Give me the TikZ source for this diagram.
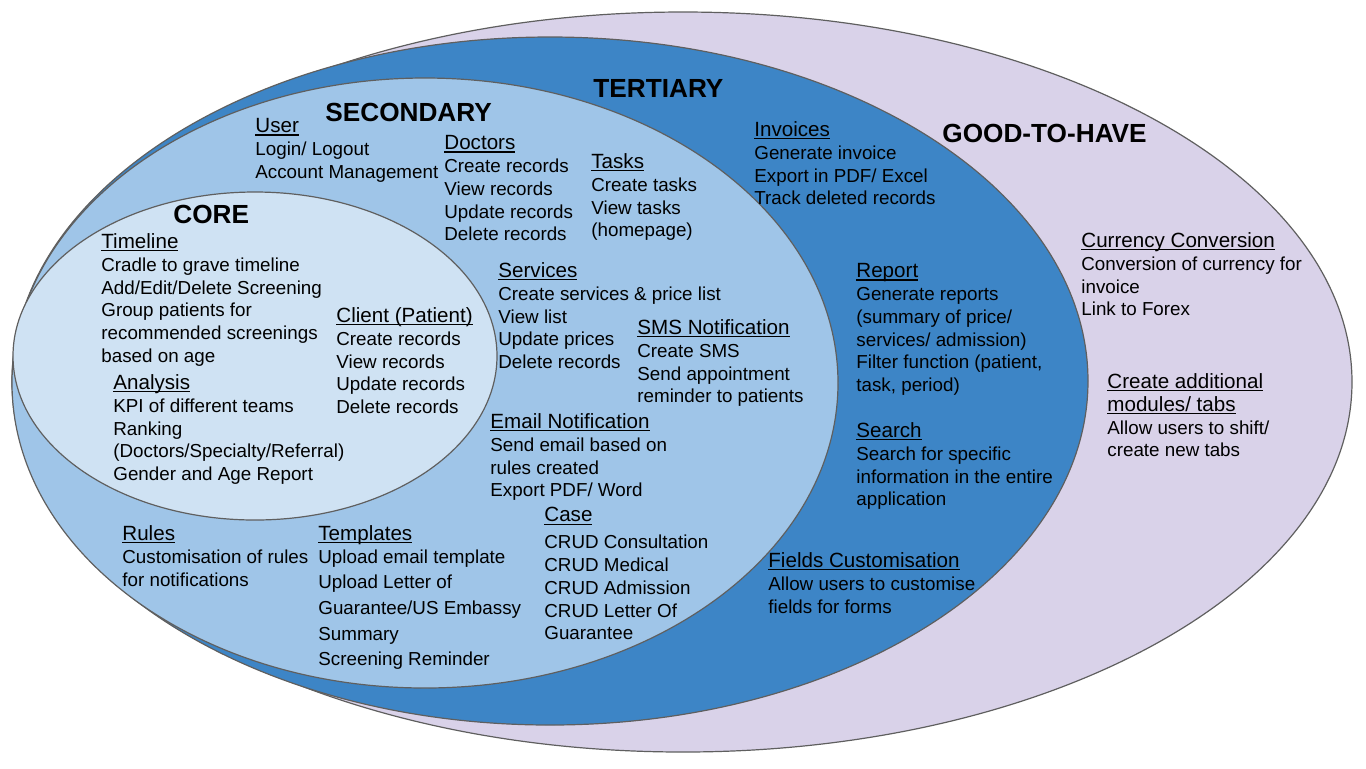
\documentclass[tikz,border=0pt]{standalone}
\usepackage{fontspec}
\setmainfont{Liberation Sans}

\definecolor{goodfill}{HTML}{D9D2E9}
\definecolor{tertfill}{HTML}{3D85C6}
\definecolor{secfill}{HTML}{9FC5E8}
\definecolor{corefill}{HTML}{CFE2F3}
\definecolor{rim}{HTML}{5F5F5F}

% underlined group heading
\newsavebox\hdbox
\newcommand\hd[1]{\sbox\hdbox{\fontsize{10.3}{11.4}\selectfont #1}%
  \rlap{\rule[-1.4pt]{\wd\hdbox}{0.6pt}}\usebox\hdbox}

\tikzset{
  zone/.style={draw=rim, line width=0.6pt},
  title/.style={anchor=base west, inner sep=0pt, font=\fontsize{13.1}{15}\selectfont\bfseries},
  group/.style={anchor=north west, yshift=7.4pt, inner sep=0pt, align=left, font=\fontsize{9.4}{11.4}\selectfont}
}

\begin{document}
\begin{tikzpicture}[x=0.5pt, y=-0.5pt]
        \useasboundingbox (0,0) rectangle (1366,768);

        % Ellissi annidate (dall'esterno all'interno)
        \foreach \cx/\cy/\rx/\ry/\col in {683/382/669/370/goodfill, 550/381/538/344/tertfill,
                                          425/383/413/305/secfill, 255/356/242/164/corefill} {
            \filldraw[zone, fill=\col] (\cx,\cy) ellipse [x radius=\rx, y radius=\ry];
        }

        % Titoli dei livelli
        \node[title] (core) at (173,223) {CORE};
        \node[title] (secondary) at (325,121) {SECONDARY};
        \node[title] (tertiary) at (593,97) {TERTIARY};
        \node[title] (good) at (942,142) {GOOD-TO-HAVE};

        % Core
        \node[group] (timeline) at (101,248) {\hd{Timeline}\\Cradle to grave timeline\\Add/Edit/Delete Screening\\Group patients for\\recommended screenings\\based on age};
        \node[group] (analysis) at (113,389) {\hd{Analysis}\\KPI of different teams\\Ranking\\(Doctors/Specialty/Referral)\\Gender and Age Report};
        \node[group] (client) at (336,322) {\hd{Client (Patient)}\\Create records\\View records\\Update records\\Delete records};

        % Secondary
        \node[group] (user) at (255,133) {\hd{User}\\Login/ Logout\\Account Management};
        \node[group] (doctors) at (444,150) {\hd{Doctors}\\Create records\\View records\\Update records\\Delete records};
        \node[group] (tasks) at (591,168) {\hd{Tasks}\\Create tasks\\View tasks\\(homepage)};
        \node[group] (services) at (498,277) {\hd{Services}\\Create services \& price list\\View list\\Update prices\\Delete records};
        \node[group] (sms) at (637,334) {\hd{SMS Notification}\\Create SMS\\Send appointment\\reminder to patients};
        \node[group] (email) at (490,428) {\hd{Email Notification}\\Send email based on\\rules created\\Export PDF/ Word};
        \node[group] (case) at (544,522) {\hd{Case}\\[2pt]CRUD Consultation\\CRUD Medical\\CRUD Admission\\CRUD Letter Of\\Guarantee};
        \node[group] (rules) at (122,540) {\hd{Rules}\\Customisation of rules\\for notifications};
        \node[group] (templates) at (318,540) {\hd{Templates}\\Upload email template\\[1.4pt]Upload Letter of\\[1.4pt]Guarantee/US Embassy\\[1.4pt]Summary\\[1.4pt]Screening Reminder};

        % Tertiary
        \node[group] (invoices) at (754,136) {\hd{Invoices}\\Generate invoice\\Export in PDF/ Excel\\Track deleted records};
        \node[group] (report) at (856,278) {\hd{Report}\\Generate reports\\(summary of price/\\services/ admission)\\Filter function (patient,\\task, period)};
        \node[group] (search) at (856,437) {\hd{Search}\\Search for specific\\information in the entire\\application};
        \node[group] (fields) at (768,567) {\hd{Fields Customisation}\\Allow users to customise\\fields for forms};

        % Good-to-have
        \node[group] (currency) at (1081,247) {\hd{Currency Conversion}\\Conversion of currency for\\invoice\\Link to Forex};
        \node[group] (modules) at (1107,388) {\hd{Create additional}\\\hd{modules/ tabs}\\Allow users to shift/\\create new tabs};
    \end{tikzpicture}
\end{document}
